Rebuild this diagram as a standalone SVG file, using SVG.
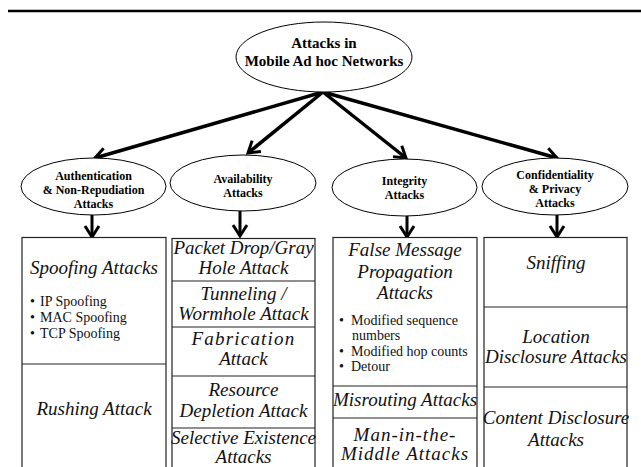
<svg xmlns="http://www.w3.org/2000/svg" width="641" height="467" viewBox="0 0 641 467">
<defs>
<marker id="chev" markerUnits="userSpaceOnUse" markerWidth="18" markerHeight="18" viewBox="0 0 18 18" refX="14" refY="9" orient="auto">
<path d="M3,2 L14,9 L3,16" fill="none" stroke="#000" stroke-width="3"/>
</marker>
<style>
.ell{fill:#fff;stroke:#000;stroke-width:1}
.t1{font-family:"Liberation Serif","Times New Roman",serif;font-weight:bold;font-size:15px;text-anchor:middle;fill:#000}
.t2{font-family:"Liberation Serif","Times New Roman",serif;font-weight:bold;font-size:12px;text-anchor:middle;fill:#000}
.bx{fill:#fff;stroke:#222;stroke-width:1.2}
.dv{stroke:#222;stroke-width:1.2}
.it{font-family:"Liberation Serif","Times New Roman",serif;font-style:italic;font-size:19px;text-anchor:middle;fill:#111}
.bl{font-family:"Liberation Serif","Times New Roman",serif;font-size:14px;fill:#111}
.ar{stroke:#000;stroke-width:3.5;fill:none;marker-end:url(#chev)}
.ard{stroke:#000;stroke-width:3;fill:none;marker-end:url(#chev)}
</style>
</defs>
<line x1="8" y1="11" x2="641" y2="11" stroke="#000" stroke-width="2.5"/>

<g id="connectors">
<line class="ar" x1="323" y1="92" x2="95" y2="158"/>
<line class="ar" x1="323" y1="92" x2="248" y2="153"/>
<line class="ar" x1="323" y1="92" x2="406" y2="158"/>
<line class="ar" x1="323" y1="92" x2="557" y2="158"/>
<line class="ard" x1="92" y1="215" x2="92" y2="237"/>
<line class="ard" x1="240" y1="211" x2="240" y2="236"/>
<line class="ard" x1="407" y1="216" x2="407" y2="237"/>
<line class="ard" x1="557" y1="215" x2="557" y2="237"/>
</g>

<g id="root">
<ellipse class="ell" cx="324" cy="57" rx="88" ry="35"/>
<text class="t1" x="324" y="48">Attacks in</text>
<text class="t1" x="324" y="66">Mobile Ad hoc Networks</text>
</g>

<g id="auth">
<ellipse class="ell" cx="93.5" cy="186.5" rx="72.5" ry="28.5"/>
<text class="t2" x="93.5" y="180">Authentication</text>
<text class="t2" x="93.5" y="194">&amp; Non-Repudiation</text>
<text class="t2" x="93.5" y="208">Attacks</text>
</g>

<g id="avail">
<ellipse class="ell" cx="243" cy="183" rx="73" ry="28"/>
<text class="t2" x="243" y="183">Availability</text>
<text class="t2" x="243" y="197">Attacks</text>
</g>

<g id="integ">
<ellipse class="ell" cx="404.5" cy="187.5" rx="72.5" ry="28.5"/>
<text class="t2" x="404.5" y="185">Integrity</text>
<text class="t2" x="404.5" y="199">Attacks</text>
</g>

<g id="conf">
<ellipse class="ell" cx="555" cy="186.5" rx="73" ry="28.5"/>
<text class="t2" x="555" y="179">Confidentiality</text>
<text class="t2" x="555" y="193">&amp; Privacy</text>
<text class="t2" x="555" y="207">Attacks</text>
</g>

<g id="box-auth">
<rect class="bx" x="22" y="237.5" width="144" height="240"/>
<line class="dv" x1="22" y1="364" x2="166" y2="364"/>
<text class="it" x="94" y="274">Spoofing Attacks</text>
<text class="bl" y="305.5"><tspan x="30">•</tspan><tspan x="40">IP Spoofing</tspan></text>
<text class="bl" y="321.5"><tspan x="30">•</tspan><tspan x="40">MAC Spoofing</tspan></text>
<text class="bl" y="337.5"><tspan x="30">•</tspan><tspan x="40">TCP Spoofing</tspan></text>
<text class="it" x="94" y="415">Rushing Attack</text>
</g>

<g id="box-avail">
<rect class="bx" x="172" y="238.5" width="143" height="240"/>
<line class="dv" x1="172" y1="281" x2="315" y2="281"/>
<line class="dv" x1="172" y1="327" x2="315" y2="327"/>
<line class="dv" x1="172" y1="376" x2="315" y2="376"/>
<line class="dv" x1="172" y1="428" x2="315" y2="428"/>
<text class="it" x="243.5" y="254">Packet Drop/Gray</text>
<text class="it" x="243.5" y="274">Hole Attack</text>
<text class="it" x="243.5" y="300">Tunneling /</text>
<text class="it" x="243.5" y="320">Wormhole Attack</text>
<text class="it" x="243.5" y="345" letter-spacing="1.2">Fabrication</text>
<text class="it" x="243.5" y="365">Attack</text>
<text class="it" x="243.5" y="396">Resource</text>
<text class="it" x="243.5" y="417">Depletion Attack</text>
<text class="it" x="243.5" y="444">Selective Existence</text>
<text class="it" x="243.5" y="463">Attacks</text>
</g>

<g id="box-integ">
<rect class="bx" x="333" y="237.5" width="144" height="240"/>
<line class="dv" x1="333" y1="386" x2="477" y2="386"/>
<line class="dv" x1="333" y1="418" x2="477" y2="418"/>
<text class="it" x="405" y="256">False Message</text>
<text class="it" x="405" y="278">Propagation</text>
<text class="it" x="405" y="299">Attacks</text>
<text class="bl" y="324.5"><tspan x="339">•</tspan><tspan x="351">Modified  sequence</tspan></text>
<text class="bl" x="352" y="339.5">numbers</text>
<text class="bl" y="355.5"><tspan x="339">•</tspan><tspan x="351">Modified hop counts</tspan></text>
<text class="bl" y="370.5"><tspan x="339">•</tspan><tspan x="351">Detour</tspan></text>
<text class="it" x="405" y="406">Misrouting Attacks</text>
<text class="it" x="405" y="441" letter-spacing="1">Man-in-the-</text>
<text class="it" x="405" y="460" letter-spacing="1">Middle Attacks</text>
</g>

<g id="box-conf">
<rect class="bx" x="484" y="237.5" width="143" height="240"/>
<line class="dv" x1="484" y1="307" x2="627" y2="307"/>
<line class="dv" x1="484" y1="387" x2="627" y2="387"/>
<text class="it" x="556" y="269">Sniffing</text>
<text class="it" x="556" y="343">Location</text>
<text class="it" x="556" y="363">Disclosure Attacks</text>
<text class="it" x="556" y="424">Content Disclosure</text>
<text class="it" x="556" y="446">Attacks</text>
</g>
</svg>
